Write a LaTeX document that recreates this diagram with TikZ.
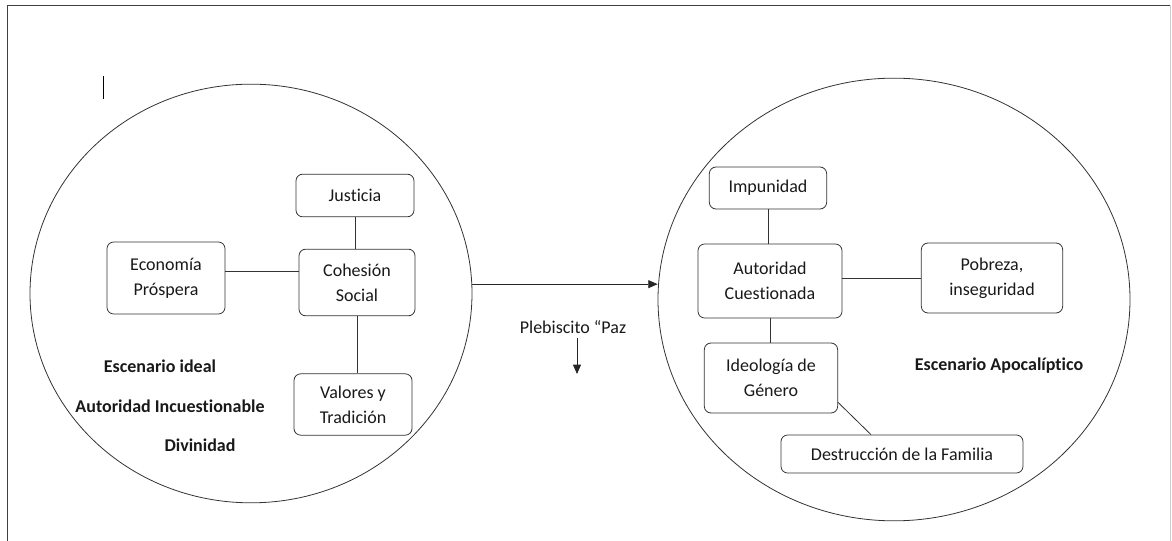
\documentclass[tikz,border=0pt]{standalone}
\usepackage{fontspec}
\setmainfont{Carlito}[Ligatures=NoCommon]
\usetikzlibrary{shapes.geometric,arrows.meta}
\begin{document}
\begin{tikzpicture}[x=0.75pt, y=-0.75pt, line width=0.6pt,
    every node/.style={font=\fontsize{13.5}{18.5}\selectfont, text=black!90},
    caja/.style={draw=black!80, rounded corners=5pt, align=center, inner sep=2pt},
    lema/.style={font=\fontsize{13.5}{18.5}\selectfont\bfseries},
    flecha/.style={-{Triangle[length=7pt,width=6pt]}}]
        \useasboundingbox (0,0) rectangle (1172,541);
        % page frame and cursor
        \draw[black!75] (7,541) -- (7,5) -- (1170,5);
        \draw[black!20] (1170,5) -- (1170,541);
        \draw (103,76) -- (103,99);
        % the two scenarios
        \node[ellipse,draw=black!80,minimum width=331.5pt,minimum height=314pt] (ideal) at (251,293.5) {};
        \node[ellipse,draw=black!80,minimum width=354pt,minimum height=332pt] (apoc) at (894,299.5) {};
        % ideal scenario
        \node[caja,minimum width=88.5pt,minimum height=32pt] (just) at (355,195.5) {Justicia};
        \node[caja,minimum width=88.5pt,minimum height=54pt] (econ) at (166,278) {Economía\\Próspera};
        \node[caja,minimum width=87pt,minimum height=50pt] (cohes) at (357,282.5) {Cohesión\\Social};
        \node[caja,minimum width=88.5pt,minimum height=46pt] (valor) at (353,404.5) {Valores y\\Tradición};
        \node[lema] (esc1) at (160,366) {Escenario ideal};
        \node[lema] (incu) at (170,406) {Autoridad Incuestionable};
        \node[lema] (divin) at (200,445) {Divinidad};
        % links around cohesion
        \draw[black!80] (just.south) -- (just.south |- cohes.north);
        \draw[black!80] ([yshift=5pt]econ.east) -- ([yshift=5pt]econ.east -| cohes.west);
        \draw[black!80] (cohes.south) -- (cohes.south |- valor.north);
        % apocalyptic scenario
        \node[caja,minimum width=88pt,minimum height=31.5pt] (impu) at (768,188) {Impunidad};
        \node[caja,minimum width=108pt,minimum height=55.5pt] (auto) at (770,281) {Autoridad\\Cuestionada};
        \node[caja,minimum width=106pt,minimum height=52.5pt] (pobre) at (992,278) {Pobreza,\\inseguridad};
        \node[caja,minimum width=100pt,minimum height=52.5pt] (ideo) at (771,378) {Ideología de\\Género};
        \node[caja,minimum width=181.5pt,minimum height=28.5pt] (destr) at (902,454) {Destrucción de la Familia};
        \node[lema] (esc2) at (999,366) {Escenario Apocalíptico};
        % links around authority
        \draw[black!80] (impu.south) -- (impu.south |- auto.north);
        \draw[black!80] (auto.east |- pobre.west) -- (pobre.west);
        \draw[black!80] (auto.south) -- (auto.south |- ideo.north);
        \draw[black!80] (ideo.-20) -- (destr.148);
        % transition between scenarios
        \coordinate (sal) at ([yshift=7pt]ideal.east);
        \draw[flecha,black!85] (sal) -- (sal -| apoc.west);
        \node (pleb) at (573,327) {Plebiscito “Paz};
        \coordinate (pleb-fin) at (577,374);
        \draw[flecha,black!85] (pleb.south -| pleb-fin) -- (pleb-fin);
\end{tikzpicture}
\end{document}
